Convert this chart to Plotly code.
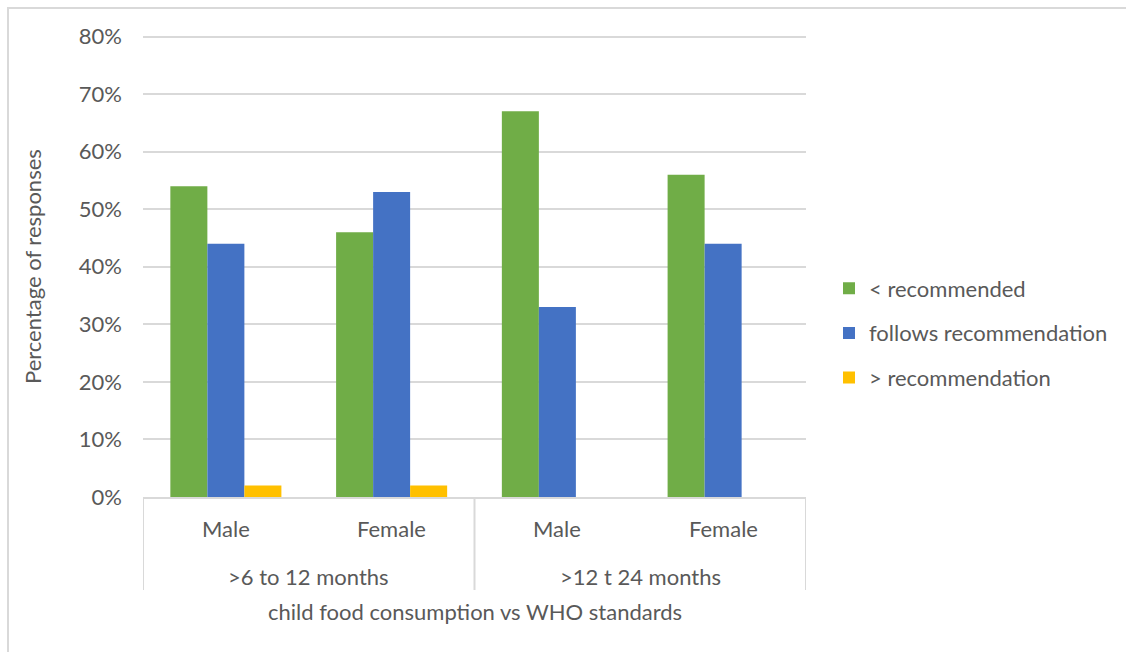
import plotly.graph_objects as go

# Categories (two-level axis)
groups = [">6 to 12 months", ">12 t 24 months"]
sexes = ["Male", "Female", "Male", "Female"]

# Series values (percent)
below_rec = [54, 46, 67, 56]
follows_rec = [44, 53, 33, 44]
above_rec = [2, 2, 0, 0]

series_names = ["< recommended", "follows recommendation", "> recommendation"]
series_colors = ["#70AD47", "#4472C4", "#FFC000"]

y_ticks = [0, 10, 20, 30, 40, 50, 60, 70, 80]

FONT = "Lato"
TXT = "#595959"
GRID = "#D9D9D9"

xpos = list(range(len(sexes)))

fig = go.Figure()
for name, vals, col in zip(series_names, [below_rec, follows_rec, above_rec], series_colors):
    fig.add_trace(go.Bar(x=xpos, y=vals, name=name, marker=dict(color=col, line=dict(width=0)),
                         legendgroup=name))

W, H = 1126, 652
L, R, T, B = 143, 320, 25, 155
pw, ph = W - L - R, H - T - B


def py(p):
    return (H - B - p) / ph


def px(p):
    return (p - L) / pw


annotations = []
# first-level labels
for x, s in zip(xpos, sexes):
    annotations.append(dict(x=x, y=py(528), xref="x", yref="paper", text=s, showarrow=False,
                            font=dict(family=FONT, size=22, color=TXT), yanchor="middle"))
# second-level labels
for i, g in enumerate(groups):
    annotations.append(dict(x=2 * i + 0.5, y=py(576), xref="x", yref="paper", text=g, showarrow=False,
                            font=dict(family=FONT, size=22, color=TXT), yanchor="middle"))
# axis titles
annotations.append(dict(x=0.5, y=py(611), xref="paper", yref="paper",
                        text="child food consumption vs WHO standards", showarrow=False,
                        font=dict(family=FONT, size=22, color=TXT), yanchor="middle"))
annotations.append(dict(x=px(32), y=py(267), xref="paper", yref="paper", text="Percentage of responses",
                        textangle=-90, showarrow=False, font=dict(family=FONT, size=22, color=TXT),
                        xanchor="center", yanchor="middle"))

shapes = []
# group dividers
for xd in [-0.5, 1.5, 3.5]:
    shapes.append(dict(type="line", xref="x", yref="paper", x0=xd, x1=xd, y0=0, y1=py(590),
                       line=dict(color=GRID, width=2)))
# chart border
shapes.append(dict(type="rect", xref="paper", yref="paper", x0=px(8), x1=px(1140), y0=py(8), y1=py(670),
                   line=dict(color=GRID, width=2), layer="below"))

fig.update_layout(
    width=W, height=H,
    margin=dict(l=L, r=R, t=T, b=B),
    paper_bgcolor="white", plot_bgcolor="white",
    barmode="group", bargap=0.33, bargroupgap=0,
    font=dict(family=FONT, size=22, color=TXT),
    xaxis=dict(range=[-0.5, 3.5], showticklabels=False, showgrid=False, zeroline=False,
               showline=True, linecolor=GRID, linewidth=2, fixedrange=True),
    yaxis=dict(range=[0, 82], tickvals=y_ticks, ticktext=[f"{v}%" for v in y_ticks],
               showgrid=True, gridcolor=GRID, gridwidth=2, zeroline=False, showline=False,
               ticks="", ticklabelstandoff=20, tickfont=dict(family=FONT, size=22, color=TXT)),
    legend=dict(x=px(829), y=py(333), xanchor="left", yanchor="middle",
                font=dict(family=FONT, size=22, color=TXT), tracegroupgap=13,
                bgcolor="rgba(0,0,0,0)"),
    annotations=annotations,
    shapes=shapes,
    showlegend=True,
)

fig.write_html("out.html")
